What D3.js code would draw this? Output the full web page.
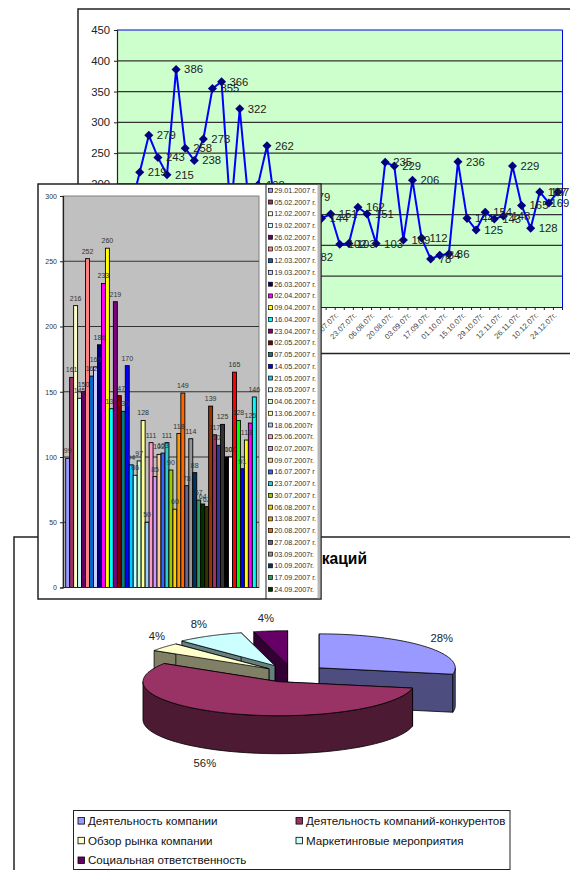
<!DOCTYPE html>
<html>
<head>
<meta charset="utf-8">
<script src="https://cdn.jsdelivr.net/npm/d3@7/dist/d3.min.js"></script>
<style>
html,body{margin:0;padding:0;background:#fff;overflow:hidden}
svg{display:block;font-family:"Liberation Sans",Arial,sans-serif}
</style>
</head>
<body>
<svg id="c" width="570" height="870"></svg>
<script>
// Weekly publication counts, 2007
const lineDates = ["22.01.07г.","29.01.07г.","05.02.07г.","12.02.07г.","19.02.07г.","26.02.07г.","05.03.07г.","12.03.07г.","19.03.07г.","26.03.07г.","02.04.07г.","09.04.07г.","16.04.07г.","23.04.07г.","30.04.07г.","07.05.07г.","14.05.07г.","21.05.07г.","28.05.07г.","04.06.07г.","11.06.07г.","18.06.07г.","25.06.07г.","02.07.07г.","09.07.07г.","16.07.07г.","23.07.07г.","30.07.07г.","06.08.07г.","13.08.07г.","20.08.07г.","27.08.07г.","03.09.07г.","10.09.07г.","17.09.07г.","24.09.07г.","01.10.07г.","08.10.07г.","15.10.07г.","22.10.07г.","29.10.07г.","05.11.07г.","12.11.07г.","19.11.07г.","26.11.07г.","03.12.07г.","10.12.07г.","17.12.07г.","24.12.07г."];
const lineValues = [130,160,219,279,243,215,386,258,238,273,355,366,150,322,165,198,262,150,120,150,179,82,144,151,102,103,162,151,103,235,229,109,206,112,78,84,86,236,144,125,154,143,148,229,165,128,187,169,187];
const lineTicks = [0,50,100,150,200,250,300,350,400,450];

const barSeries = ["29.01.2007 г.","05.02.2007 г.","12.02.2007 г.","19.02.2007 г.","26.02.2007 г.","05.03.2007 г.","12.03.2007 г.","19.03.2007 г.","26.03.2007 г.","02.04.2007 г.","09.04.2007 г.","16.04.2007 г.","23.04.2007 г.","02.05.2007 г.","07.05.2007 г.","14.05.2007 г.","21.05.2007 г.","28.05.2007 г.","04.06.2007 г.","13.06.2007 г.","18.06.2007г","25.06.2007г.","02.07.2007г.","09.07.2007г.","16.07.2007 г","23.07.2007 г.","30.07.2007 г.","06.08.2007 г.","13.08.2007 г.","20.08.2007 г.","27.08.2007 г.","03.09.2007г.","10.09.2007г.","17.09.2007 г.","24.09.2007г.","01.10.2007 г.","08.10.2007 г.","15.10.2007 г.","22.10.2007 г.","29.10.2007 г.","05.11.2007 г.","12.11.2007 г.","19.11.2007 г.","26.11.2007 г.","03.12.2007 г.","10.12.2007 г.","17.12.2007 г.","24.12.2007 г."];
const barValues = [99,161,216,145,150,252,162,169,186,233,260,137,219,147,135,170,94,86,97,128,50,111,85,102,103,111,90,60,118,149,78,114,88,67,64,62,139,117,109,125,100,100,165,128,91,113,126,146];
const barColors = ["#9999FF","#993366","#FFFFCC","#CCFFFF","#660066","#FF8080","#0066CC","#CCCCFF","#000080","#FF00FF","#FFFF00","#00FFFF","#800080","#800000","#008080","#0000FF","#00CCFF","#CCFFFF","#CCFFCC","#FFFF99","#99CCFF","#FF99CC","#CC99FF","#FFCC99","#3366FF","#33CCCC","#99CC00","#FFCC00","#FF9900","#FF6600","#666699","#969696","#003366","#339966","#003300","#333300","#993300","#993366","#333399","#333333","#000000","#FFFFFF","#FF0000","#00FF00","#0000FF","#FFFF00","#FF00FF","#00FFFF"];
const barTicks = [0,50,100,150,200,250,300];
const barLegendCount = 35;

const pieTitle = "Тематика публикаций";
const pieNames = ["Деятельность компании","Деятельность компаний-конкурентов","Обзор рынка компании","Маркетинговые мероприятия","Социальная ответственность"];
const pieValues = [28,56,4,8,4];
const pieColors = ["#9999FF","#993366","#FFFFCC","#CCFFFF","#660066"];

const svg = d3.select("#c");
const ink = "#222";

function styleAxis(g, size, color){
  g.selectAll("path.domain").attr("stroke", ink).attr("stroke-width",1.2);
  g.selectAll(".tick line").attr("stroke", ink);
  g.selectAll("text").attr("font-size",size).attr("fill",color).attr("font-family",'"Liberation Sans",Arial,sans-serif');
}

// ---- Line chart ----
(function(){
  const L=117,R=562.5,T=30,B=307;
  const g = svg.append("g");
  g.append("rect").attr("x",78).attr("y",9).attr("width",560).attr("height",344.5)
    .attr("fill","#fff").attr("stroke",ink).attr("stroke-width",1.5);
  g.append("rect").attr("x",L).attr("y",T).attr("width",R-L).attr("height",B-T)
    .attr("fill","#CCFFCC");
  const x = d3.scaleBand().domain(d3.range(lineValues.length)).range([L,R]);
  const y = d3.scaleLinear().domain([0,450]).range([B,T]);
  const cx = i => x(i)+x.bandwidth()/2;
  g.selectAll("line.grid").data(lineTicks.filter(d=>d>0&&d<450)).join("line")
    .attr("x1",L).attr("x2",R).attr("y1",d=>y(d)).attr("y2",d=>y(d))
    .attr("stroke","#333").attr("stroke-width",1.2);
  // blue plot border: top and right sides
  g.append("path").attr("d",d3.line()([[L,T],[R,T],[R,B]])).attr("fill","none").attr("stroke","#0000E0").attr("stroke-width",1);
  const ay = g.append("g").attr("transform",`translate(${L},0)`)
    .call(d3.axisLeft(y).tickValues(lineTicks).tickSize(3).tickPadding(4));
  styleAxis(ay,11.3,"#222");
  const ax = g.append("g").attr("transform",`translate(0,${B})`)
    .call(d3.axisBottom(x).tickValues(d3.range(0,lineValues.length,2)).tickSize(0).tickFormat(i=>lineDates[i]));
  styleAxis(ax,7.6,"#444");
  ax.selectAll("text").attr("text-anchor","end").attr("dx",0).attr("dy",0)
    .attr("transform","translate(-1,9) rotate(-45)").attr("y",0);
  g.selectAll("line.xt").data(d3.range(lineValues.length+1)).join("line")
    .attr("x1",i=>L+i*x.step()).attr("x2",i=>L+i*x.step()).attr("y1",B).attr("y2",B+3)
    .attr("stroke",ink);
  g.append("path").datum(lineValues)
    .attr("d",d3.line().x((d,i)=>cx(i)).y(d=>y(d)))
    .attr("fill","none").attr("stroke","#0000FF").attr("stroke-width",2);
  g.selectAll("path.mk").data(lineValues).join("path")
    .attr("d",d3.symbol(d3.symbolDiamond2,52)())
    .attr("transform",(d,i)=>`translate(${cx(i)},${y(d)})`)
    .attr("fill","#000080");
  // value labels sit right of their marker but stay inside the page width
  const labelMaxX = 550.5;
  g.selectAll("text.v").data(lineValues).join("text")
    .attr("x",(d,i)=>Math.min(cx(i)+8,labelMaxX)).attr("y",d=>y(d)+4)
    .attr("font-size",11.3).attr("fill","#222").text(d=>d);
})();

// ---- Exploded 3D pie ----
(function(){
  const g = svg.append("g");
  g.append("rect").attr("x",14).attr("y",537).attr("width",620).attr("height",400)
    .attr("fill","#fff").attr("stroke",ink).attr("stroke-width",1.5);
  g.append("text").attr("x",367).attr("y",563.5).attr("text-anchor","end")
    .attr("font-size",15.6).attr("font-weight","bold").attr("fill","#000").text(pieTitle);

  const cx0=292, cy0=673.5, rx=136, ry=34, depth=38;
  const explode=[0.26,0.26,0.22,0.26,0.26];
  const labelFx=[1.17,1.48,1.07,1.16,1.27], labelFy=[1.38,1.36,1.52,1.41,1.39];
  const arcs = d3.pie().sort(null)(pieValues);
  const pt = (c,a,dz=0)=>[c[0]+rx*Math.sin(a), c[1]-ry*Math.cos(a)+dz];
  const line = d3.line();
  const items = arcs.map((a,i)=>{
    const mid=(a.startAngle+a.endAngle)/2;
    return {a,i,mid,c:[cx0+explode[i]*rx*Math.sin(mid), cy0-explode[i]*ry*Math.cos(mid)]};
  }).sort((p,q)=>p.c[1]-q.c[1]);
  const sliceG = g.selectAll("g.s").data(items).join("g");
  sliceG.each(function(s){
    const sel=d3.select(this), c=s.c, base=d3.color(pieColors[s.i]);
    const side=d3.rgb(base.r/2,base.g/2,base.b/2).formatHex();
    const stroke={fill:side,stroke:"#000","stroke-width":0.8,"stroke-linejoin":"round"};
    const put=(p,st)=>{const e=sel.append("path").attr("d",p);Object.entries(st).forEach(([k,v])=>e.attr(k,v));};
    // radial walls
    [s.a.startAngle,s.a.endAngle].forEach(t=>{
      put(line([c,pt(c,t),pt(c,t,depth),[c[0],c[1]+depth]])+"Z",stroke);
    });
    // outer wall: only the part of the rim facing the viewer
    const from=Math.max(s.a.startAngle,Math.PI/2), to=Math.min(s.a.endAngle,Math.PI*1.5);
    if(to>from){
      const ts=d3.range(0,41).map(k=>from+(to-from)*k/40);
      const top=ts.map(t=>pt(c,t)), bot=ts.map(t=>pt(c,t,depth)).reverse();
      put(line(top.concat(bot))+"Z",stroke);
    }
    // top face
    const ts=d3.range(0,61).map(k=>s.a.startAngle+(s.a.endAngle-s.a.startAngle)*k/60);
    put(line([c].concat(ts.map(t=>pt(c,t))))+"Z",{fill:pieColors[s.i],stroke:"#000","stroke-width":0.8,"stroke-linejoin":"round"});
  });
  g.selectAll("text.p").data(items).join("text")
    .attr("text-anchor","middle").attr("font-size",11.3).attr("fill","#222")
    .attr("x",s=>s.c[0]+rx*labelFx[s.i]*Math.sin(s.mid))
    .attr("y",s=>s.c[1]-ry*labelFy[s.i]*Math.cos(s.mid)+(Math.cos(s.mid)<0?depth:0)+4)
    .text(s=>s.a.data+"%");

  // legend
  const lg=g.append("g");
  lg.append("rect").attr("x",73.5).attr("y",810.5).attr("width",436.5).attr("height",59)
    .attr("fill","#fff").attr("stroke",ink).attr("stroke-width",1);
  const pos=i=>[i%2?296:78, 820.8+Math.floor(i/2)*19.7];
  pieNames.forEach((n,i)=>{
    const [px,py]=pos(i);
    lg.append("rect").attr("x",px).attr("y",py-3.2).attr("width",6.5).attr("height",6.5)
      .attr("fill",pieColors[i]).attr("stroke","#000").attr("stroke-width",0.8);
    lg.append("text").attr("x",px+10).attr("y",py+4).attr("font-size",11.6).attr("fill","#111").text(n);
  });
})();

// ---- Grouped bar chart panel ----
(function(){
  const L=63,R=259,T=196,B=587.5;
  const g = svg.append("g");
  g.append("rect").attr("x",38).attr("y",184).attr("width",283).attr("height",415)
    .attr("fill","#fff").attr("stroke",ink).attr("stroke-width",1.5);
  // grey strip along the panel's right edge
  g.append("rect").attr("x",317.5).attr("y",184.8).attr("width",2.8).attr("height",413.4).attr("fill","#B8B8B8");
  g.append("line").attr("x1",266).attr("x2",266).attr("y1",184).attr("y2",599).attr("stroke",ink).attr("stroke-width",1);
  g.append("rect").attr("x",L).attr("y",T).attr("width",R-L).attr("height",B-T)
    .attr("fill","#C0C0C0").attr("stroke","#808080").attr("stroke-width",1);
  const x=d3.scaleBand().domain(d3.range(barValues.length)).range([L+2.7,R-2.7]);
  const y=d3.scaleLinear().domain([0,300]).range([B,T]);
  g.selectAll("line.grid").data(barTicks.filter(d=>d>0&&d<300)).join("line")
    .attr("x1",L).attr("x2",R).attr("y1",d=>y(d)).attr("y2",d=>y(d))
    .attr("stroke","#333").attr("stroke-width",1);
  g.selectAll("rect.b").data(barValues).join("rect")
    .attr("x",(d,i)=>x(i)).attr("y",d=>y(d)).attr("width",x.bandwidth()).attr("height",d=>B-y(d))
    .attr("fill",(d,i)=>barColors[i]).attr("stroke","#000").attr("stroke-width",0.9);
  const ay=g.append("g").attr("transform",`translate(${L},0)`)
    .call(d3.axisLeft(y).tickValues(barTicks).tickSize(3).tickPadding(3));
  styleAxis(ay,7,"#333");
  g.append("line").attr("x1",L).attr("x2",R).attr("y1",B).attr("y2",B).attr("stroke",ink);
  g.selectAll("text.v").data(barValues).join("text")
    .attr("x",(d,i)=>x(i)+x.bandwidth()/2).attr("y",d=>y(d)-5)
    .attr("text-anchor","middle").attr("font-size",7).attr("fill","#333").text(d=>d);
  const ly=d3.scaleLinear().domain([0,barLegendCount-1]).range([190.3,589.3]);
  const items=g.selectAll("g.l").data(barSeries.slice(0,barLegendCount)).join("g")
    .attr("transform",(d,i)=>`translate(0,${ly(i)})`);
  items.append("rect").attr("x",268.5).attr("y",-2).attr("width",4).attr("height",4)
    .attr("fill",(d,i)=>barColors[i]).attr("stroke","#000").attr("stroke-width",0.7);
  items.append("text").attr("x",274.3).attr("y",2.5).attr("font-size",7.2).attr("fill","#333").text(d=>d);
})();
</script>
</body>
</html>
